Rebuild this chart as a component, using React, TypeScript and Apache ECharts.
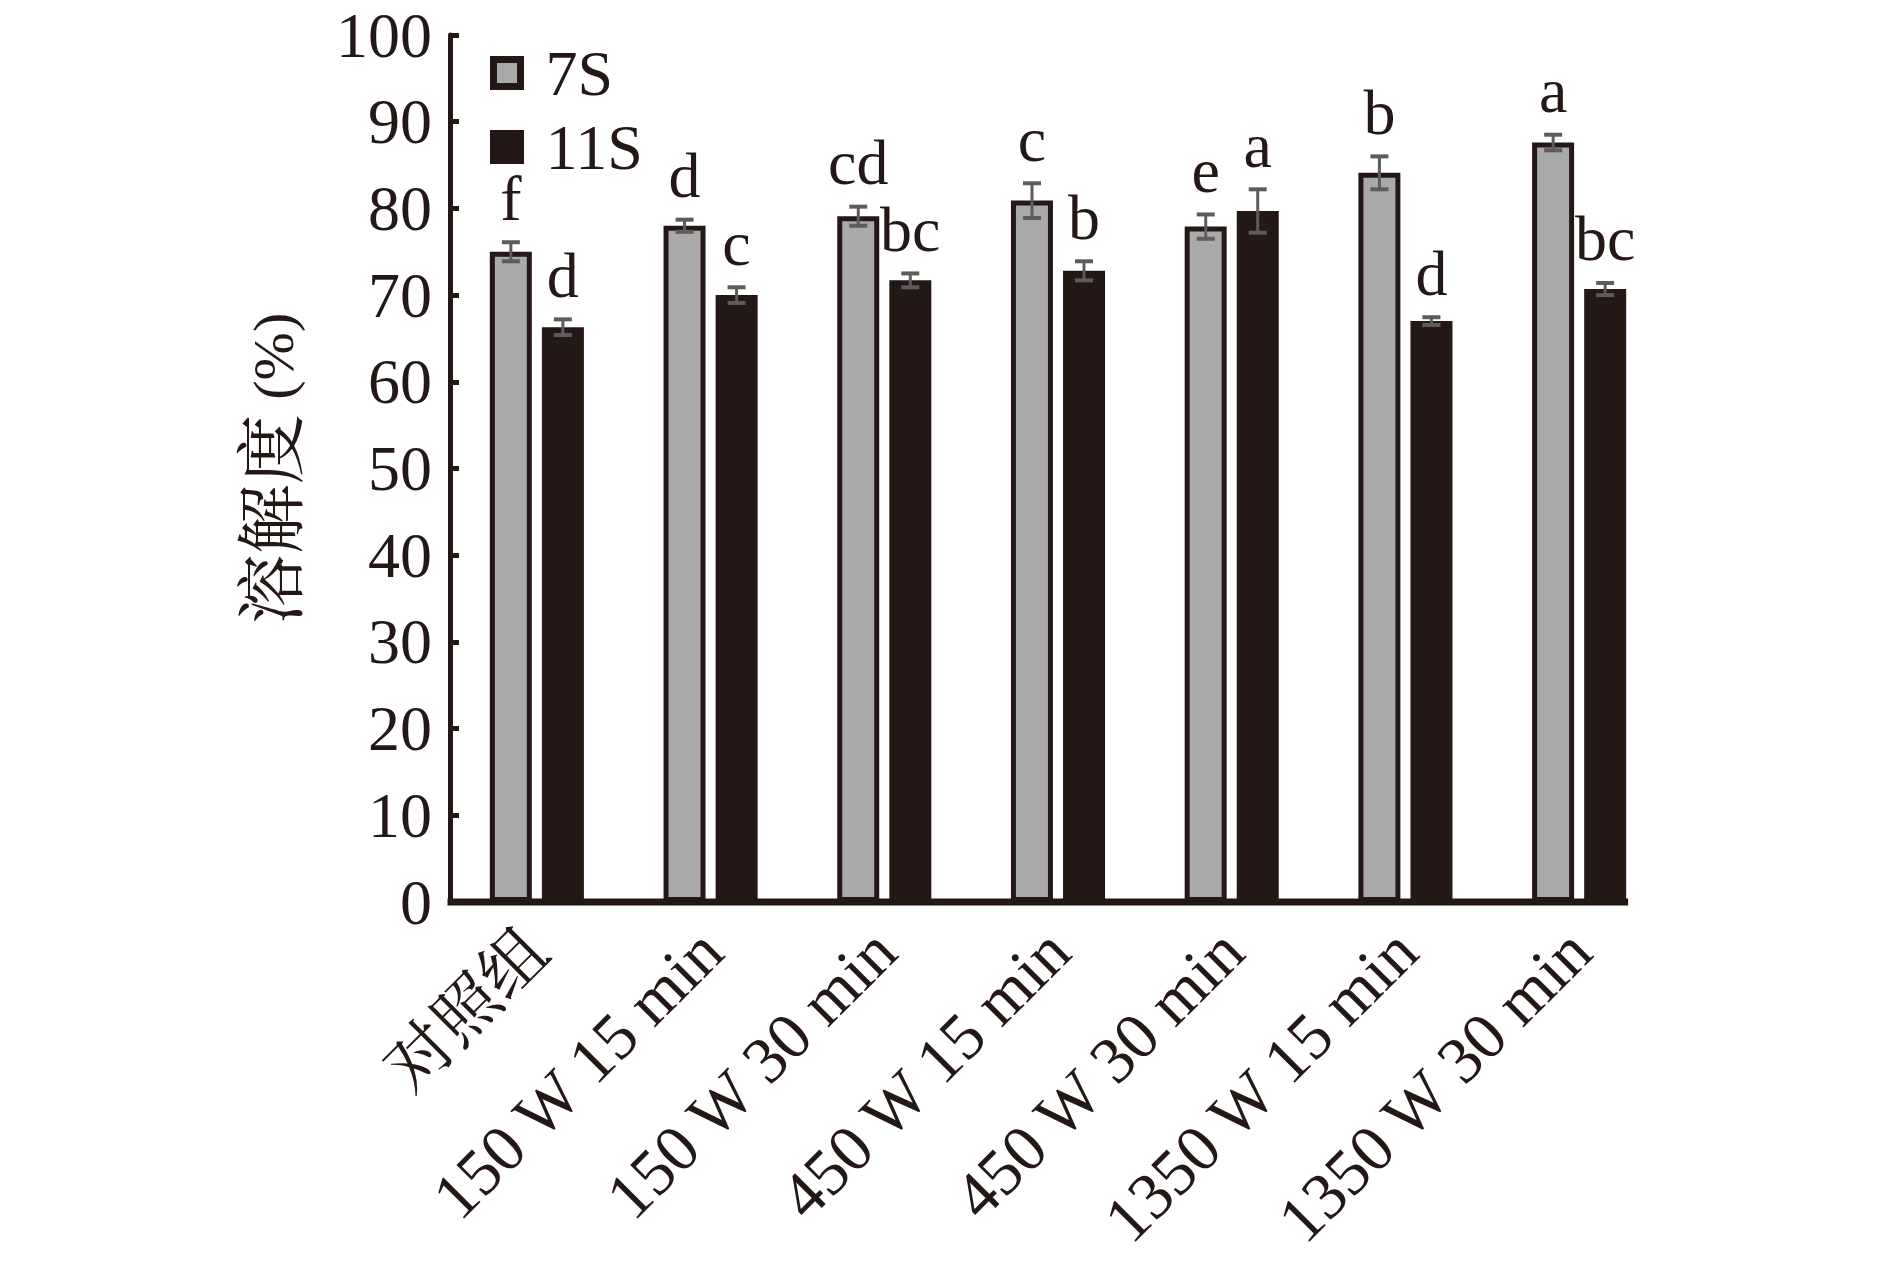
import React, { useEffect, useRef } from "react";
import * as echarts from "echarts";

const categories = ["对照组", "150 W 15 min", "150 W 30 min", "450 W 15 min", "450 W 30 min", "1350 W 15 min", "1350 W 30 min"];
const values7S = [75.0, 78.0, 79.1, 80.9, 77.9, 84.1, 87.6];
const errors7S = [1.1, 0.7, 1.1, 2.0, 1.4, 1.9, 0.9];
const letters7S = ["f", "d", "cd", "c", "e", "b", "a"];
const values11S = [66.3, 70.0, 71.7, 72.8, 79.7, 67.0, 70.7];
const errors11S = [0.9, 0.9, 0.8, 1.1, 2.5, 0.45, 0.7];
const letters11S = ["d", "c", "bc", "b", "a", "d", "bc"];
const seriesNames = ["7S", "11S"];

const BLACK = "#231815";
const GRAY = "#a9a9a9";
const ERR = "#5c5c5c";
const SERIF = "'Liberation Serif', 'Times New Roman', serif";
const CJK = "'Liberation Serif', 'Noto Serif CJK SC', 'Noto Sans CJK SC', serif";
const BAR_OFF = 26;
const HALF_BAR = 23;

function errorSeries(vals: number[], errs: number[], letters: string[], sign: number) {
  return {
    type: "custom",
    z: 10,
    data: vals.map((v, i) => [i, v, errs[i]]),
    renderItem: (params: any, api: any) => {
      const cat = api.value(0);
      const v = api.value(1);
      const e = api.value(2);
      const c = api.coord([cat, v]);
      const t = api.coord([cat, v + e]);
      const b = api.coord([cat, v - e]);
      const x = c[0] + sign * BAR_OFF;
      const cap = 9;
      const ls = { stroke: ERR, lineWidth: 3 };
      const cs = { stroke: ERR, lineWidth: 4 };
      return {
        type: "group",
        children: [
          { type: "line", shape: { x1: x, y1: t[1], x2: x, y2: b[1] }, style: ls },
          { type: "line", shape: { x1: x - cap, y1: t[1], x2: x + cap, y2: t[1] }, style: cs },
          { type: "line", shape: { x1: x - cap, y1: b[1], x2: x + cap, y2: b[1] }, style: cs },
          {
            type: "text",
            x: x,
            y: t[1] - 12,
            style: {
              text: letters[params.dataIndex],
              fontSize: 64,
              fontFamily: SERIF,
              fill: BLACK,
              align: "center",
              verticalAlign: "bottom",
              textAlign: "center",
              textVerticalAlign: "bottom",
            },
          },
        ],
      };
    },
  };
}

export default function App() {
  const ref = useRef<HTMLDivElement>(null);
  useEffect(() => {
    document.body.style.margin = "0";
    document.body.style.overflow = "hidden";
    const chart = echarts.init(ref.current!, undefined, { renderer: "svg" });
    chart.setOption({
      animation: false,
      backgroundColor: "#ffffff",
      grid: { left: 450, right: 224, top: 35, bottom: 365 },
      legend: {
        orient: "vertical",
        left: 485,
        top: 36,
        itemWidth: 27,
        itemHeight: 27,
        itemGap: 10,
        selectedMode: false,
        textStyle: { fontSize: 64, lineHeight: 64, fontFamily: SERIF, color: BLACK, padding: [0, 0, 0, 20] },
        data: [
          { name: seriesNames[0], icon: "rect", itemStyle: { color: GRAY, borderColor: BLACK, borderWidth: 7 } },
          { name: seriesNames[1], icon: "rect", itemStyle: { color: BLACK, borderColor: BLACK, borderWidth: 7 } },
        ],
      },
      xAxis: {
        type: "category",
        data: categories,
        axisLine: { show: false },
        axisTick: { show: false },
        splitLine: { show: false },
        axisLabel: {
          interval: 0,
          rotate: 45,
          margin: 38,
          fontSize: 66,
          fontFamily: CJK,
          color: BLACK,
        },
      },
      yAxis: {
        type: "value",
        min: 0,
        max: 100,
        interval: 10,
        name: "{c|溶解度}{p| (%)}",
        nameLocation: "middle",
        nameRotate: 90,
        nameGap: 142,
        nameTextStyle: {
          fontFamily: CJK,
          color: BLACK,
          rich: {
            c: { fontSize: 70, fontFamily: CJK, color: BLACK },
            p: { fontSize: 58, fontFamily: SERIF, color: BLACK },
          },
        },
        axisLine: { show: true, lineStyle: { color: BLACK, width: 5 } },
        axisTick: { show: true, inside: true, length: 9, lineStyle: { color: BLACK, width: 5 } },
        splitLine: { show: false },
        axisLabel: { fontSize: 64, fontFamily: SERIF, color: BLACK, margin: 18 },
      },
      series: [
        {
          name: seriesNames[0],
          type: "bar",
          data: values7S,
          barWidth: 42,
          barGap: "24%",
          itemStyle: { color: GRAY, borderColor: BLACK, borderWidth: 5 },
        },
        {
          name: seriesNames[1],
          type: "bar",
          data: values11S,
          barWidth: 42,
          barGap: "24%",
          itemStyle: { color: BLACK, borderColor: BLACK, borderWidth: 4 },
        },
        errorSeries(values7S, errors7S, letters7S, -1),
        errorSeries(values11S, errors11S, letters11S, 1),
      ],
    });
    const p0 = chart.convertToPixel({ xAxisIndex: 0, yAxisIndex: 0 }, [0, 0]) as number[];
    const pLast = chart.convertToPixel({ xAxisIndex: 0, yAxisIndex: 0 }, [categories.length - 1, 0]) as number[];
    chart.setOption({
      graphic: [
        {
          type: "line",
          z: 100,
          shape: { x1: 447.5, y1: p0[1], x2: pLast[0] + BAR_OFF + HALF_BAR, y2: p0[1] },
          style: { stroke: BLACK, lineWidth: 7 },
        },
      ],
    });
    return () => chart.dispose();
  }, []);
  return <div ref={ref} style={{ position: "absolute", left: 0, top: 0, width: 1890, height: 1267 }} />;
}
